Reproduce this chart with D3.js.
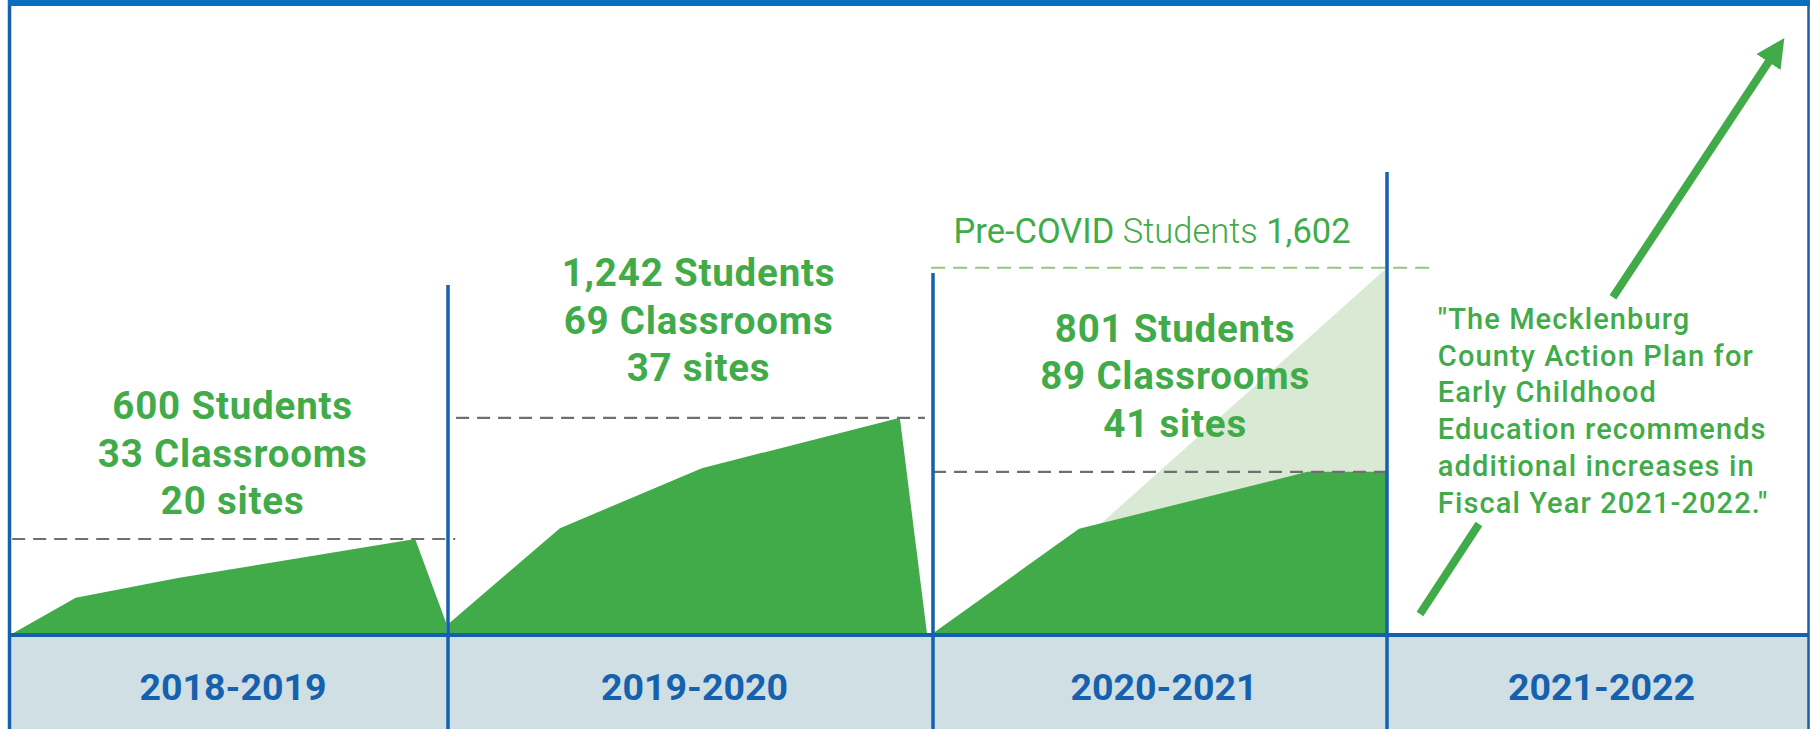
<!DOCTYPE html>
<html>
<head>
<meta charset="utf-8">
<script src="https://cdn.jsdelivr.net/npm/d3@7"></script>
<style>
  body { margin: 0; background: #fff; }
  svg { display: block; font-family: Roboto, "Open Sans", sans-serif; }
</style>
</head>
<body>
<div id="chart"></div>
<script>
// school years (columns)
const years = ["2018-2019", "2019-2020", "2020-2021", "2021-2022"];

// enrollment shape within each year: month of school year (0-12) and relative level (0-100)
const areaMonths = [
    [0, 1.8, 4.6, 11.1, 11.95],
    [0, 2.77, 6.28, 11.18, 11.85],
    [0, 3.86, 9.9, 12]
];
const areaLevels = [
    [0, 6.2, 9.5, 16, 2],
    [1.8, 17.8, 27.8, 36.2, 0.3],
    [0.3, 17.7, 27.2, 27.2]
];
const peakLevels = [16, 36.2, 27.2];

// pre-COVID projection in 2020-2021
const preCovidMonths = [3.86, 12];
const preCovidLevels = [15.3, 61.2];
const preCovidLevel = 61.2;

// labels
const studentLabels = ["600 Students", "1,242 Students", "801 Students"];
const classroomLabels = ["33 Classrooms", "69 Classrooms", "89 Classrooms"];
const siteLabels = ["20 sites", "37 sites", "41 sites"];
const labelMonths = [6.1, 6.2, 6.4];
const labelLevels = [36, 58.2, 48.9];

const quoteLines = [
    "\"The Mecklenburg",
    "County Action Plan for",
    "Early Childhood",
    "Education recommends",
    "additional increases in",
    "Fiscal Year 2021-2022.\""
];

// 2021-2022 growth arrow (month, level), split around the quote
const arrowLowMonths = [0.94, 2.62];
const arrowLowLevels = [3.5, 18.5];
const arrowHighMonths = [6.44, 11.1];
const arrowHighLevels = [56.3, 97.5];

class EnrollmentVis {
    constructor(parentElement) {
        this.parentElement = parentElement;
        this.initVis();
    }

    initVis() {
        let vis = this;

        vis.width = 1810;
        vis.height = 729;
        vis.baseline = 635;
        vis.colEdges = [10, 448, 933, 1387, 1808];
        vis.dividerTops = [285, 273, 172];

        vis.green = "#41ab4a";
        vis.blue = "#1561ad";

        vis.svg = d3.select("#" + vis.parentElement).append("svg")
            .attr("width", vis.width)
            .attr("height", vis.height);

        vis.y = d3.scaleLinear().domain([0, 100]).range([vis.baseline, 35]);
        vis.x = years.map((d, i) => d3.scaleLinear()
            .domain([0, 12])
            .range([vis.colEdges[i], vis.colEdges[i + 1]]));

        vis.updateVis();
    }

    updateVis() {
        let vis = this;
        let y = vis.y;

        // bottom band
        vis.svg.append("rect")
            .attr("x", vis.colEdges[0])
            .attr("y", vis.baseline)
            .attr("width", vis.colEdges[4] - vis.colEdges[0])
            .attr("height", vis.height - vis.baseline)
            .attr("fill", "#d0dfe4");

        // pre-COVID light area
        let x3 = vis.x[2];
        let pre = preCovidMonths.map((m, i) => ({m: m, v: preCovidLevels[i]}));
        vis.svg.append("path")
            .datum(pre)
            .attr("fill", "#d9e9d3")
            .attr("d", d3.area().x(d => x3(d.m)).y0(vis.baseline).y1(d => y(d.v)));

        // enrollment areas
        areaMonths.forEach((months, c) => {
            let pts = months.map((m, i) => ({m: m, v: areaLevels[c][i]}));
            vis.svg.append("path")
                .datum(pts)
                .attr("fill", vis.green)
                .attr("d", d3.area()
                    .x(d => vis.x[c](d.m))
                    .y0(vis.baseline)
                    .y1(d => y(d.v)));
        });

        // peak dashed lines
        let dashX = [[0.06, 12.2], [0.2, 11.8], [0, 12.04]];
        peakLevels.forEach((v, c) => {
            vis.svg.append("line")
                .attr("x1", vis.x[c](dashX[c][0]))
                .attr("x2", vis.x[c](dashX[c][1]))
                .attr("y1", y(v))
                .attr("y2", y(v))
                .attr("stroke", "#6f6f6f")
                .attr("stroke-width", 2.2)
                .attr("stroke-dasharray", "13,8");
        });

        vis.svg.append("line")
            .attr("x1", x3(-0.05))
            .attr("x2", vis.x[3](1.3))
            .attr("y1", y(preCovidLevel))
            .attr("y2", y(preCovidLevel))
            .attr("stroke", "#93c781")
            .attr("stroke-width", 2)
            .attr("stroke-dasharray", "14,8");

        // column dividers
        vis.dividerTops.forEach((top, i) => {
            vis.svg.append("line")
                .attr("x1", vis.colEdges[i + 1])
                .attr("x2", vis.colEdges[i + 1])
                .attr("y1", top)
                .attr("y2", vis.height)
                .attr("stroke", vis.blue)
                .attr("stroke-width", 3.5);
        });

        // baseline
        vis.svg.append("line")
            .attr("x1", vis.colEdges[0])
            .attr("x2", vis.colEdges[4])
            .attr("y1", vis.baseline)
            .attr("y2", vis.baseline)
            .attr("stroke", vis.blue)
            .attr("stroke-width", 4);

        // frame
        vis.svg.append("line")
            .attr("x1", 9.5).attr("x2", 9.5)
            .attr("y1", 0).attr("y2", vis.height)
            .attr("stroke", vis.blue).attr("stroke-width", 3.5);
        vis.svg.append("line")
            .attr("x1", 1808.5).attr("x2", 1808.5)
            .attr("y1", 0).attr("y2", vis.height)
            .attr("stroke", vis.blue).attr("stroke-width", 2.5);
        vis.svg.append("rect")
            .attr("x", 8).attr("y", 0)
            .attr("width", vis.width - 8).attr("height", 6)
            .attr("fill", "#0a6fbf");

        // year labels
        years.forEach((yr, i) => {
            vis.svg.append("text")
                .attr("x", (vis.colEdges[i] + vis.colEdges[i + 1]) / 2 + 4)
                .attr("y", 700)
                .attr("text-anchor", "middle")
                .attr("font-size", 37.5)
                .attr("font-weight", 700)
                .attr("fill", vis.blue)
                .text(yr);
        });

        // column labels
        studentLabels.forEach((s, c) => {
            let lines = [s, classroomLabels[c], siteLabels[c]];
            let t = vis.svg.append("text")
                .attr("x", vis.x[c](labelMonths[c]))
                .attr("y", y(labelLevels[c]))
                .attr("text-anchor", "middle")
                .attr("font-size", 38.5)
                .attr("font-weight", 700)
                .attr("letter-spacing", 0.8)
                .attr("fill", vis.green);
            lines.forEach((l, i) => {
                t.append("tspan")
                    .attr("x", vis.x[c](labelMonths[c]))
                    .attr("dy", i === 0 ? 0 : 47.7)
                    .text(l);
            });
        });

        // pre-COVID label
        let pc = vis.svg.append("text")
            .attr("x", x3(5.79))
            .attr("y", 243)
            .attr("text-anchor", "middle")
            .attr("font-size", 34.5)
            .attr("fill", vis.green);
        pc.append("tspan").attr("font-weight", 400).text("Pre-COVID");
        pc.append("tspan").attr("font-weight", 300).text(" Students ");
        pc.append("tspan").attr("font-weight", 400).text("1,602");

        // quote
        let q = vis.svg.append("text")
            .attr("x", vis.x[3](1.45))
            .attr("y", 329)
            .attr("font-size", 29)
            .attr("font-weight", 500)
            .attr("letter-spacing", 1.1)
            .attr("fill", vis.green);
        quoteLines.forEach((l, i) => {
            q.append("tspan")
                .attr("x", vis.x[3](1.45))
                .attr("dy", i === 0 ? 0 : 36.7)
                .text(l);
        });

        // growth arrow
        let x4 = vis.x[3];
        vis.svg.append("defs").append("marker")
            .attr("id", "arrowhead")
            .attr("viewBox", "0 0 10 10")
            .attr("refX", 5)
            .attr("refY", 5)
            .attr("markerWidth", 3.6)
            .attr("markerHeight", 3.6)
            .attr("orient", "auto")
            .append("path")
            .attr("d", "M0,0 L10,5 L0,10 Z")
            .attr("fill", vis.green);

        let arrowLine = d3.line().x(d => x4(d.m)).y(d => y(d.v));
        vis.svg.append("path")
            .datum(arrowLowMonths.map((m, i) => ({m: m, v: arrowLowLevels[i]})))
            .attr("fill", "none")
            .attr("stroke", vis.green)
            .attr("stroke-width", 8)
            .attr("d", arrowLine);
        vis.svg.append("path")
            .datum(arrowHighMonths.map((m, i) => ({m: m, v: arrowHighLevels[i]})))
            .attr("fill", "none")
            .attr("stroke", vis.green)
            .attr("stroke-width", 8)
            .attr("marker-end", "url(#arrowhead)")
            .attr("d", arrowLine);
    }
}

new EnrollmentVis("chart");
</script>
</body>
</html>
